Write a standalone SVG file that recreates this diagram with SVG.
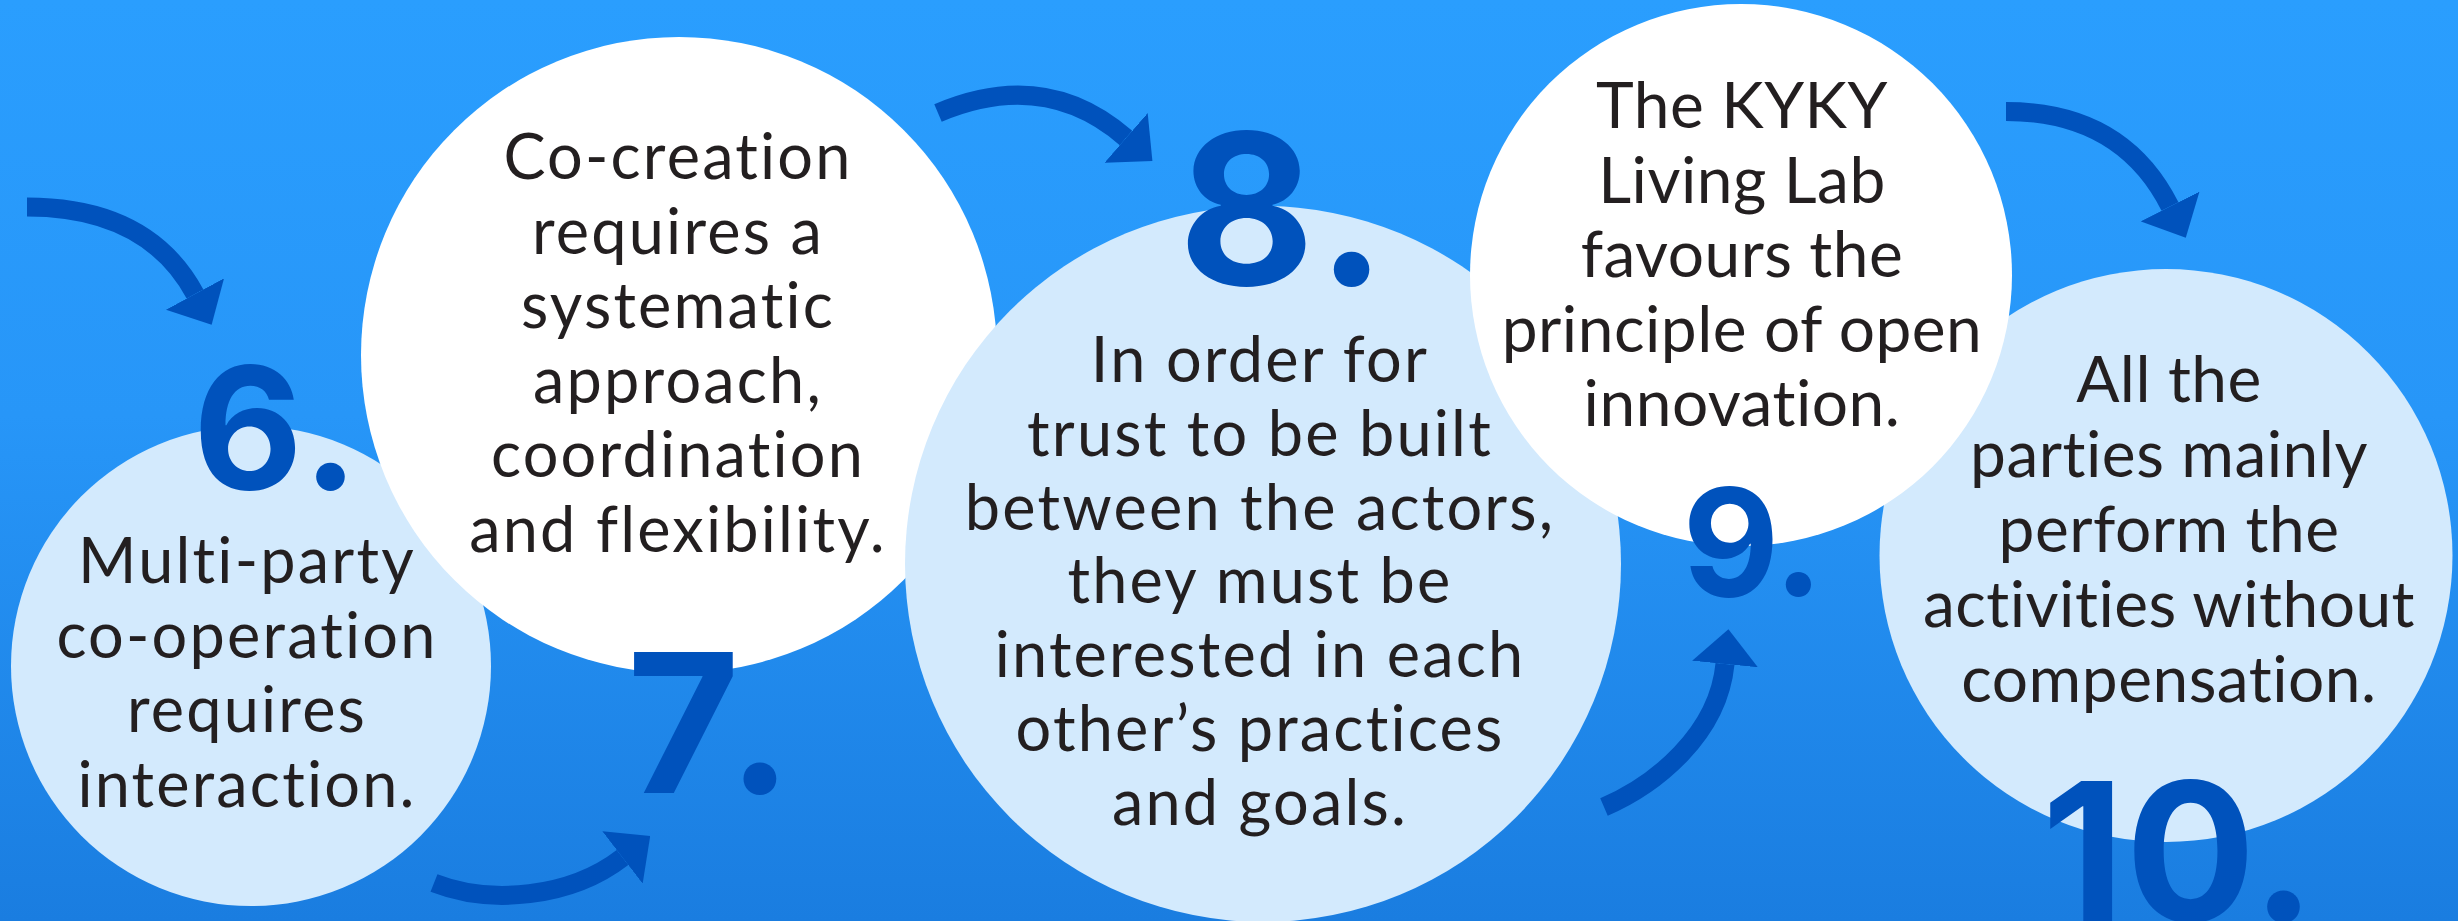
<svg xmlns="http://www.w3.org/2000/svg" width="2458" height="921" viewBox="0 0 2458 921">
  <defs>
    <linearGradient id="bg" x1="0" y1="0" x2="0" y2="1">
      <stop offset="0" stop-color="#2a9efe"/>
      <stop offset="0.45" stop-color="#2796f8"/>
      <stop offset="1" stop-color="#1a7de0"/>
    </linearGradient>
    <marker id="head" markerUnits="userSpaceOnUse" viewBox="0 -33 35 66" refX="0" refY="0" markerWidth="35" markerHeight="66" orient="auto">
      <path d="M0,-33 L35,0 L0,33 Z" fill="#0052bc"/>
    </marker>
    <style>
      .light { fill: #d3eafd; }
      .white { fill: #ffffff; }
      .txt { font-family: Lato, "Open Sans", sans-serif; font-weight: 400; font-size: 63px; fill: #231f20; text-anchor: middle; }
      .wide { letter-spacing: 2.2px; }
      .narrow { font-size: 64px; letter-spacing: 0.5px; }
      .num { font-family: Inter, "Noto Sans", sans-serif; font-weight: 700; fill: #0052bc; text-anchor: middle; }
      .arrow { fill: none; stroke: #0052bc; stroke-width: 19; stroke-linecap: butt; marker-end: url(#head); }
    </style>
  </defs>

  <rect x="0" y="0" width="2458" height="921" fill="url(#bg)"/>

  <g id="node6">
    <circle class="light" cx="251" cy="666" r="240"/>
    <text class="num" font-size="169" y="489"><tspan x="248">6</tspan><tspan x="330.5">.</tspan></text>
    <text class="txt wide"><tspan x="247" y="583">Multi-party</tspan><tspan x="247" y="657.5">co-operation</tspan><tspan x="247" y="732">requires</tspan><tspan x="247" y="806.5">interaction.</tspan></text>
  </g>

  <g id="node7">
    <circle class="white" cx="679" cy="355" r="318"/>
    <text class="num" font-size="194" y="793"><tspan x="683.5">7</tspan><tspan x="760">.</tspan></text>
    <text class="txt wide"><tspan x="678" y="179">Co-creation</tspan><tspan x="678" y="253.6">requires a</tspan><tspan x="678" y="328.2">systematic</tspan><tspan x="678" y="402.8">approach,</tspan><tspan x="678" y="477.4">coordination</tspan><tspan x="678" y="552">and flexibility.</tspan></text>
  </g>

  <g id="node8">
    <circle class="light" cx="1263" cy="564" r="358"/>
    <text class="num" font-size="210" y="285"><tspan x="1246.5">8</tspan><tspan x="1351.5">.</tspan></text>
    <text class="txt wide"><tspan x="1260" y="382">In order for</tspan><tspan x="1260" y="455.8">trust to be built</tspan><tspan x="1260" y="529.6">between the actors,</tspan><tspan x="1260" y="603.4">they must be</tspan><tspan x="1260" y="677.2">interested in each</tspan><tspan x="1260" y="751">other’s practices</tspan><tspan x="1260" y="824.8">and goals.</tspan></text>
  </g>

  <g id="node10">
    <circle class="light" cx="2166" cy="555.5" r="286.5"/>
    <text class="num" font-size="193" y="921"><tspan x="2083">1</tspan><tspan x="2190.5">0</tspan><tspan x="2283.5">.</tspan></text>
    <text class="txt narrow"><tspan x="2169" y="402">All the</tspan><tspan x="2169" y="477">parties mainly</tspan><tspan x="2169" y="552">perform the</tspan><tspan x="2169" y="627">activities without</tspan><tspan x="2169" y="702">compensation.</tspan></text>
  </g>

  <g id="node9">
    <circle class="white" cx="1741" cy="275" r="271"/>
    <text class="num" font-size="149" y="596"><tspan x="1731">9</tspan><tspan x="1798.5">.</tspan></text>
    <text class="txt narrow"><tspan x="1742" y="128">The KYKY</tspan><tspan x="1742" y="202.5">Living Lab</tspan><tspan x="1742" y="277">favours the</tspan><tspan x="1742" y="351.5">principle of open</tspan><tspan x="1742" y="426">innovation.</tspan></text>
  </g>

  <g id="connectors">
    <path class="arrow" d="M 27 207 Q 148 207 195 294"/>
    <path class="arrow" d="M 434 883 C 490 905 570 898 622.5 857.5"/>
    <path class="arrow" d="M 938 113 Q 1045 67.5 1126 138"/>
    <path class="arrow" d="M 1604 807 C 1655 785 1718 735 1725 664"/>
    <path class="arrow" d="M 2006 111.5 Q 2122 111.5 2170 206.5"/>
  </g>
</svg>
